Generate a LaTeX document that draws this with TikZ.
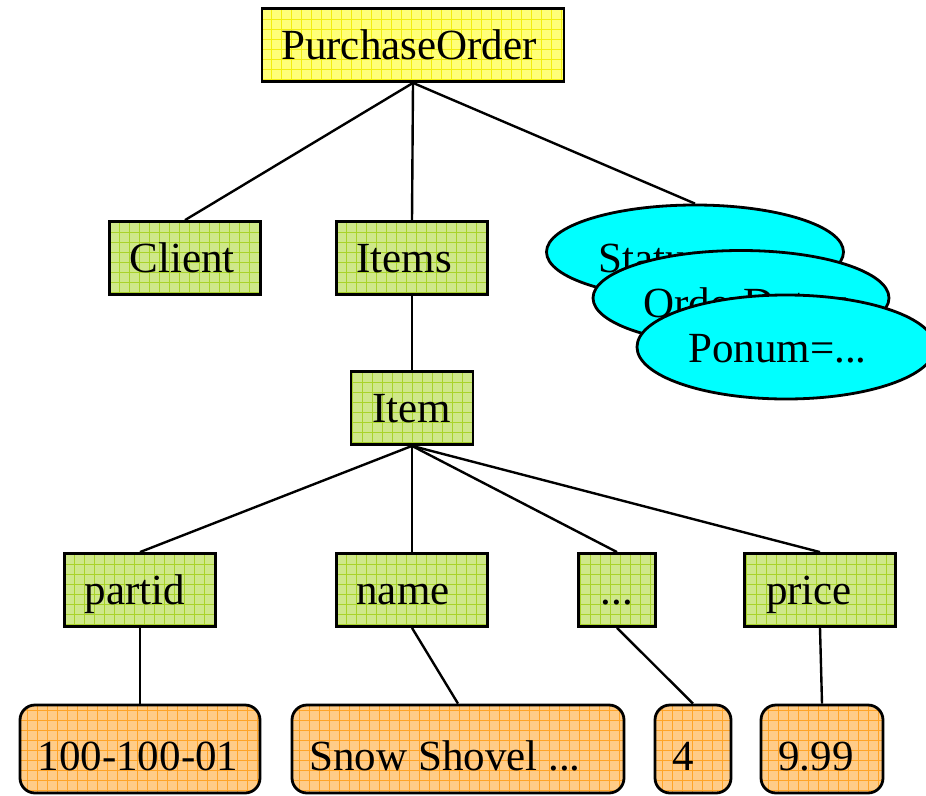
\documentclass[tikz,border=0pt]{standalone}
\usepackage{fontspec}
\setmainfont{Liberation Serif}
\usetikzlibrary{shapes.geometric}

\definecolor{yfill}{HTML}{FFFF78}
\definecolor{ygrid}{HTML}{F2EE10}
\definecolor{gfill}{HTML}{CFE88A}
\definecolor{ggrid}{HTML}{A9D32A}
\definecolor{ofill}{HTML}{FFCC88}
\definecolor{ogrid}{HTML}{FFA428}
\definecolor{cyanfill}{HTML}{00FFFF}

\tikzset{
  gridded/.style={path picture={
      \draw[#1, line width=0.9pt, step=10pt]
        (path picture bounding box.south west) grid (path picture bounding box.north east);}},
  bigfont/.style={font=\fontsize{43}{50}\selectfont},
  % pushes the label to the left by half the given amount
  shiftleft/.style={execute at end node={\hspace*{#1pt}}},
  elem/.style={draw=black, line width=2.8pt, rectangle, inner sep=0pt,
    minimum height=73pt, bigfont, text height=28.5pt, text depth=0pt},
  rootbox/.style={elem, fill=yfill, gridded=ygrid},
  tagbox/.style={elem, fill=gfill, gridded=ggrid},
  valbox/.style={elem, rounded corners=15pt, minimum height=88pt,
    text height=42pt, fill=ofill, gridded=ogrid},
  attr/.style={draw=black, line width=2.8pt, ellipse, fill=cyanfill, inner sep=0pt},
  attrtext/.style={inner sep=0pt, anchor=base west, bigfont},
  link/.style={draw=black, line width=2.4pt}
}

\begin{document}
\begin{tikzpicture}[x=1pt, y=-1pt]
  \useasboundingbox (0,0) rectangle (926,795);

  % root
  \node[rootbox, minimum width=302pt, shiftleft=8] (po) at (413,45) {PurchaseOrder};

  % second level
  \node[tagbox, minimum width=151pt, shiftleft=6] (client) at (185,258) {Client};
  \node[tagbox, minimum width=151pt, shiftleft=16] (items)  at (412,258) {Items};

  % stacked attributes, each one partly covering the previous
  \node[attr, minimum width=297pt, minimum height=94pt] (status) at (695,252) {};
  \node[attrtext] (statustxt) at (598,272) {Status=...};
  \node[attr, minimum width=296pt, minimum height=95pt] (odate) at (741,298) {};
  \node[attrtext] (odatetxt) at (643,317) {OrderDate=...};
  \node[attr, minimum width=298pt, minimum height=104pt] (ponum) at (786,347) {};
  \node[attrtext] (ponumtxt) at (688,362) {Ponum=...};

  % item level
  \node[tagbox, minimum width=122pt] (item) at (412,408) {Item};

  \node[tagbox, minimum width=151pt, shiftleft=10] (partid) at (140,590) {partid};
  \node[tagbox, minimum width=151pt, shiftleft=18] (name)   at (412,590) {name};
  \node[tagbox, minimum width=77pt]                (more)   at (617,590) {...};
  \node[tagbox, minimum width=151pt, shiftleft=22] (price)  at (820,590) {price};

  % values
  \node[valbox, minimum width=240pt, shiftleft=4]  (v1) at (140,749) {100-100-01};
  \node[valbox, minimum width=332pt, shiftleft=26] (v2) at (458,749) {Snow Shovel ...};
  \node[valbox, minimum width=76pt,  shiftleft=20] (v3) at (693,749) {4};
  \node[valbox, minimum width=122pt, shiftleft=12] (v4) at (822,749) {9.99};

  % tree edges
  \draw[link] (po.south) -- (client.north);
  \draw[link] (po.south) -- (items.north);
  \draw[link] (po.south) -- (status.north);
  \draw[link] (items.south) -- (item.north);
  \draw[link] (item.south) -- (partid.north);
  \draw[link] (item.south) -- (name.north);
  \draw[link] (item.south) -- (more.north);
  \draw[link] (item.south) -- (price.north);
  \draw[link] (partid.south) -- (v1.north);
  \draw[link] (name.south) -- (v2.north);
  \draw[link] (more.south) -- (v3.north);
  \draw[link] (price.south) -- (v4.north);
\end{tikzpicture}
\end{document}
